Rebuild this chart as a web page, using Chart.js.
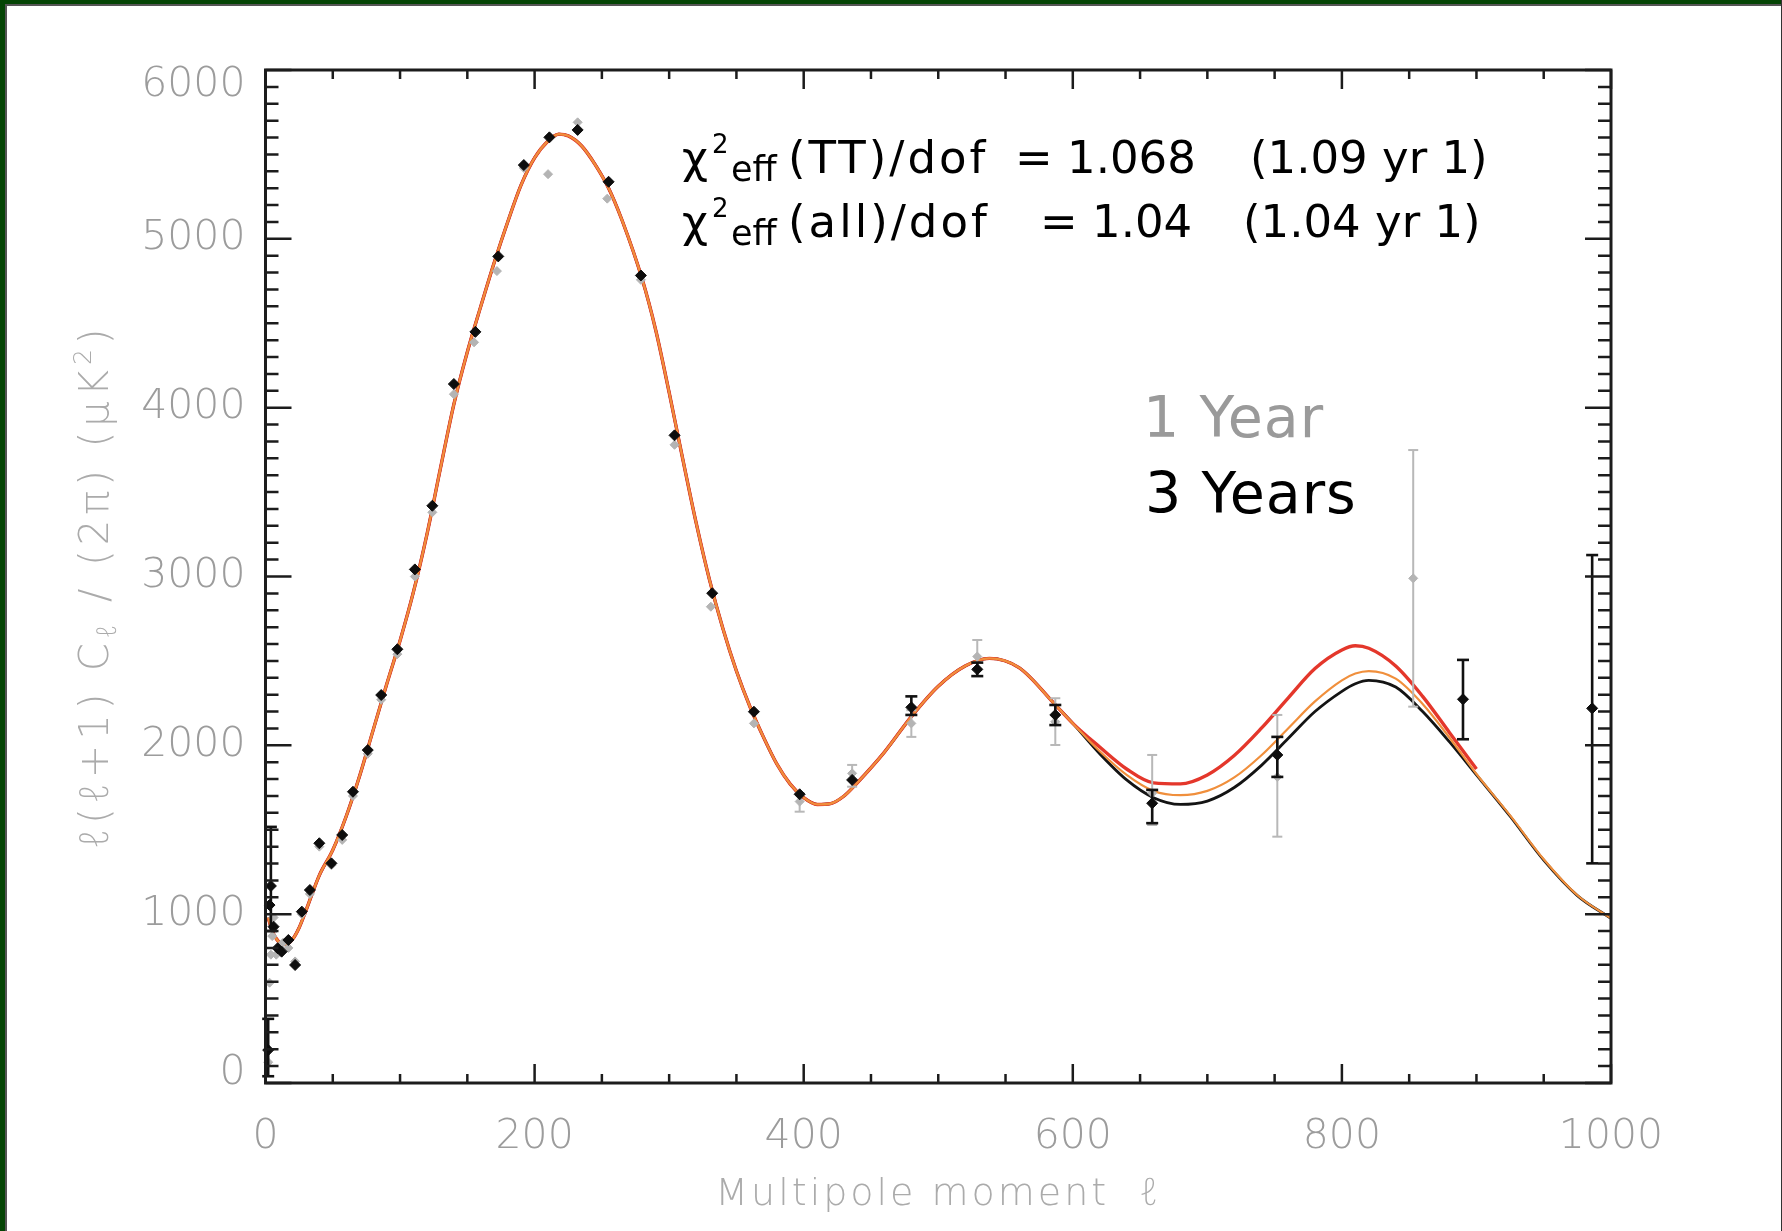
<!DOCTYPE html>
<html><head><meta charset="utf-8">
<script src="https://cdn.jsdelivr.net/npm/chart.js@4.4.1/dist/chart.umd.min.js"></script>
<style>html,body{margin:0;padding:0;background:#fff;overflow:hidden}</style>
</head><body><canvas id="c" width="1782" height="1231"></canvas>
<script>
// ---------- data ----------
const xTicks = [0, 200, 400, 600, 800, 1000];
const yTicks = [0, 1000, 2000, 3000, 4000, 5000, 6000];

const curveL = [2,5,10,15,20,25,30,40,50,60,70,80,90,100,110,120,130,140,150,160,170,180,190,200,210,218,225,235,245,255,265,280,290,300,310,320,330,340,350,360,370,380,390,400,410,420,430,440,460,480,500,520,538,560,587,600,620,640,660,680,700,720,740,760,780,800,810,820,840,860,880,900,925,950,975,1000];
const curveBlack = [980,900,835,820,850,920,1020,1230,1380,1580,1820,2090,2360,2620,2910,3250,3640,4020,4330,4600,4860,5100,5320,5480,5580,5620,5610,5550,5440,5300,5110,4760,4460,4090,3700,3320,2980,2690,2440,2230,2050,1890,1770,1690,1650,1655,1700,1780,1960,2170,2350,2470,2515,2460,2240,2130,1950,1795,1690,1650,1670,1750,1880,2040,2200,2320,2365,2385,2345,2200,2020,1825,1580,1320,1110,975];
const curveOrange = [980,900,835,820,850,920,1020,1230,1380,1580,1820,2090,2360,2620,2910,3250,3640,4020,4330,4600,4860,5100,5320,5480,5580,5620,5610,5550,5440,5300,5110,4760,4460,4090,3700,3320,2980,2690,2440,2230,2050,1890,1770,1690,1650,1655,1700,1780,1960,2170,2350,2470,2515,2460,2240,2130,1965,1825,1730,1705,1730,1810,1940,2100,2260,2385,2425,2440,2395,2245,2045,1830,1585,1325,1112,975];
const curveRed = [980,900,835,820,850,920,1020,1230,1380,1580,1820,2090,2360,2620,2910,3250,3640,4020,4330,4600,4860,5100,5320,5480,5580,5620,5610,5550,5440,5300,5110,4760,4460,4090,3700,3320,2980,2690,2440,2230,2050,1890,1770,1690,1650,1655,1700,1780,1960,2170,2350,2470,2515,2460,2240,2130,1990,1860,1778,1772,1825,1940,2100,2280,2455,2565,2590,2575,2470,2290,2075,1860,null,null,null,null];

const blackL = [2,3,4,6,9,12,17,22,27,33,40,49,57,65,76,86,98,111,124,140,156,173,192,211,232,255,279,304,332,363,397,436,480,529,587,659,752,890,986];
const blackV = [195,1054,1167,926,798,778,847,699,1015,1143,1420,1301,1469,1725,1972,2298,2569,3042,3419,4140,4449,4896,5437,5601,5645,5338,4783,3836,2901,2199,1710,1795,2225,2450,2180,1657,1943,2273,2219];
const blackErrL  = [2,4,480,529,587,659,752,890,986];
const blackErrLo = [40,900,2180,2410,2120,1539,1813,2036,1301];
const blackErrHi = [380,1517,2290,2490,2239,1736,2050,2506,3127];

const grayL = [2,3,4,5,6,8,10,13,17,22,27,33,40,49,57,65,76,86,98,111,124,140,155,172,192,210,232,254,279,304,331,363,397,436,480,529,587,659,752,853];
const grayV = [123,594,760,870,980,760,800,830,800,720,1000,1120,1400,1290,1440,1700,1950,2270,2540,3000,3380,4080,4387,4809,5420,5383,5690,5238,4757,3780,2821,2130,1667,1834,2130,2526,2140,1717,1813,2989];
const grayErrL  = [397,436,480,529,587,659,752,853];
const grayErrLo = [1607,1755,2050,2446,2002,1528,1459,2229];
const grayErrHi = [1716,1884,2208,2624,2279,1943,2180,3749];

// ---------- helpers ----------
const FONT = "'DejaVu Sans', 'Noto Sans', sans-serif";
const pts = (xs, ys) => xs.map((x, i) => ({x: x, y: ys[i]}));
const errPts = (xs, lo, hi) => {
  const out = [];
  xs.forEach((x, i) => { out.push({x: x, y: lo[i]}, {x: x, y: hi[i]}, {x: x, y: null}); });
  return out;
};
const curve = (ys, color, w) => ({
  data: pts(curveL, ys), showLine: true, borderColor: color, borderWidth: w,
  pointRadius: 0, cubicInterpolationMode: 'monotone', spanGaps: false, fill: false
});
const errSet = (xs, lo, hi, color, w, cap) => ({
  data: errPts(xs, lo, hi), showLine: true, spanGaps: false, borderColor: color, borderWidth: w,
  pointStyle: 'line', pointRadius: cap, pointBorderColor: color, pointBorderWidth: w,
  pointBackgroundColor: color, clip: false
});

// ---------- decorations (frame, inward ticks, texts) ----------
const decor = {
  id: 'decor',
  beforeDraw(chart) {
    const c = chart.ctx, W = chart.width, H = chart.height;
    // IDL-style: end labels of the y axis sit just inside the frame
    const ys = chart.scales.y;
    const items = ys.getLabelItems();
    items.forEach((it, i) => {
      const v = ys.ticks[i] && ys.ticks[i].value;
      if (!it._nudged && it.options && it.options.translation) {
        if (v === ys.max) it.options.translation[1] += 15;
        if (v === ys.min) it.options.translation[1] -= 10;
        it._nudged = true;
      }
    });
    c.save();
    c.fillStyle = '#ffffff'; c.fillRect(0, 0, W, H);
    c.fillStyle = '#044404';
    c.fillRect(0, 0, W, 4); c.fillRect(0, 0, 5, H);
    c.fillStyle = '#555555';
    c.fillRect(5, 4, W - 5, 2); c.fillRect(5, 4, 2, H - 4);
    c.fillStyle = '#333333'; c.fillRect(W - 1, 0, 1, H);
    c.restore();
  },
  afterDatasetsDraw(chart) {
    const c = chart.ctx, a = chart.chartArea, xs = chart.scales.x, ys = chart.scales.y;
    c.save();
    c.strokeStyle = '#1c1c1c';
    c.lineWidth = 2.5;
    for (let v = ys.min; v <= ys.max; v += 100) {
      const p = ys.getPixelForValue(v);
      const len = (v % 1000 === 0) ? 26 : 13;
      c.beginPath();
      c.moveTo(a.left, p); c.lineTo(a.left + len, p);
      c.moveTo(a.right, p); c.lineTo(a.right - len, p);
      c.stroke();
    }
    for (let v = xs.min; v <= xs.max; v += 50) {
      const p = xs.getPixelForValue(v);
      const len = (v % 200 === 0) ? 19 : 9;
      c.beginPath();
      c.moveTo(p, a.bottom); c.lineTo(p, a.bottom - len);
      c.moveTo(p, a.top); c.lineTo(p, a.top + len);
      c.stroke();
    }
    c.lineWidth = 3;
    c.strokeRect(a.left, a.top, a.right - a.left, a.bottom - a.top);
    c.restore();
  },
  afterDraw(chart) {
    const c = chart.ctx, a = chart.chartArea;
    c.save();
    // axis titles
    c.fillStyle = '#ababab';
    c.textBaseline = 'alphabetic';
    c.letterSpacing = '3px';
    c.font = "200 38px " + FONT;
    c.textAlign = 'center';
    c.fillText('Multipole moment  \u2113', (a.left + a.right) / 2, 1205);
    // y title (rotated) with subscript / superscript
    c.save();
    c.translate(108, 586);
    c.rotate(-Math.PI / 2);
    c.textAlign = 'left';
    c.letterSpacing = '5px';
    const parts = [
      {t: '\u2113(\u2113+1) C', s: 40, dy: 0},
      {t: '\u2113', s: 27, dy: 8},
      {t: ' / (2\u03c0) (\u03bcK', s: 40, dy: 0},
      {t: '2', s: 25, dy: -17},
      {t: ')', s: 40, dy: 0}
    ];
    let tot = 0;
    parts.forEach(p => { c.font = "200 " + p.s + "px " + FONT; p.w = c.measureText(p.t).width; tot += p.w; });
    let x0 = -tot / 2;
    parts.forEach(p => { c.font = "200 " + p.s + "px " + FONT; c.fillText(p.t, x0, p.dy); x0 += p.w; });
    c.restore();
    // chi-square annotation
    c.fillStyle = '#000000';
    c.textAlign = 'left';
    const line = (base, label, eqTxt, eqX, right, rightX) => {
      c.letterSpacing = '0px';
      c.font = "45px " + FONT; c.fillText('\u03c7', 682, base);
      c.font = "26px " + FONT; c.fillText('2', 712, base - 20);
      c.font = "35px " + FONT; c.fillText('eff', 731, base + 8);
      c.font = "45px " + FONT;
      c.letterSpacing = '3px';
      c.fillText(label, 788, base);
      c.letterSpacing = '0px';
      c.fillText(eqTxt, eqX, base);
      c.fillText(right, rightX, base);
    };
    line(173, '(TT)/dof', '= 1.068', 1015, '(1.09 yr 1)', 1250);
    line(237, '(all)/dof', '= 1.04', 1040, '(1.04 yr 1)', 1243);
    // series labels
    c.letterSpacing = '1px';
    c.font = "57px " + FONT;
    c.fillStyle = '#9a9a9a';
    c.fillText('1 Year', 1143, 437);
    c.fillStyle = '#000000';
    c.fillText('3 Years', 1145, 513);
    c.restore();
  }
};

const tickFmt = v => String(v);

new Chart(document.getElementById('c'), {
  type: 'scatter',
  data: {
    datasets: [
      {label: '3 Years', data: pts(blackL, blackV), pointStyle: 'rectRot', pointRadius: 5.5,
       pointBackgroundColor: '#0d0d0d', pointBorderColor: '#0d0d0d', pointBorderWidth: 1, clip: false},
      errSet(blackErrL, blackErrLo, blackErrHi, '#111111', 2.6, 6),
      {label: '1 Year', data: pts(grayL, grayV), pointStyle: 'rectRot', pointRadius: 4.5,
       pointBackgroundColor: '#b4b4b4', pointBorderColor: '#b4b4b4', pointBorderWidth: 1, clip: false},
      errSet(grayErrL, grayErrLo, grayErrHi, '#b8b8b8', 2, 5),
      curve(curveOrange, '#f08f3c', 2.2),
      curve(curveRed, '#e4372b', 3.4),
      curve(curveBlack, '#141414', 2.8)
    ]
  },
  options: {
    responsive: false, animation: false, devicePixelRatio: 1,
    layout: {padding: {left: 0, top: 70, right: 171, bottom: 0}},
    plugins: {legend: {display: false}, tooltip: {enabled: false}},
    scales: {
      x: {
        type: 'linear', min: 0, max: 1000,
        grid: {display: false, drawTicks: false}, border: {display: false},
        afterBuildTicks: s => { s.ticks = xTicks.map(v => ({value: v})); },
        ticks: {callback: tickFmt, color: '#9c9c9c', font: {family: FONT, size: 41, weight: '200'}, padding: 30, maxRotation: 0, autoSkip: false},
        afterFit: s => { s.height = 148; }
      },
      y: {
        type: 'linear', min: 0, max: 6000,
        grid: {display: false, drawTicks: false}, border: {display: false},
        afterBuildTicks: s => { s.ticks = yTicks.map(v => ({value: v})); },
        ticks: {callback: tickFmt, color: '#9c9c9c', font: {family: FONT, size: 41, weight: '200'}, padding: 20, autoSkip: false},
        afterFit: s => { s.width = 265.5; }
      }
    }
  },
  plugins: [decor]
});
</script></body></html>
